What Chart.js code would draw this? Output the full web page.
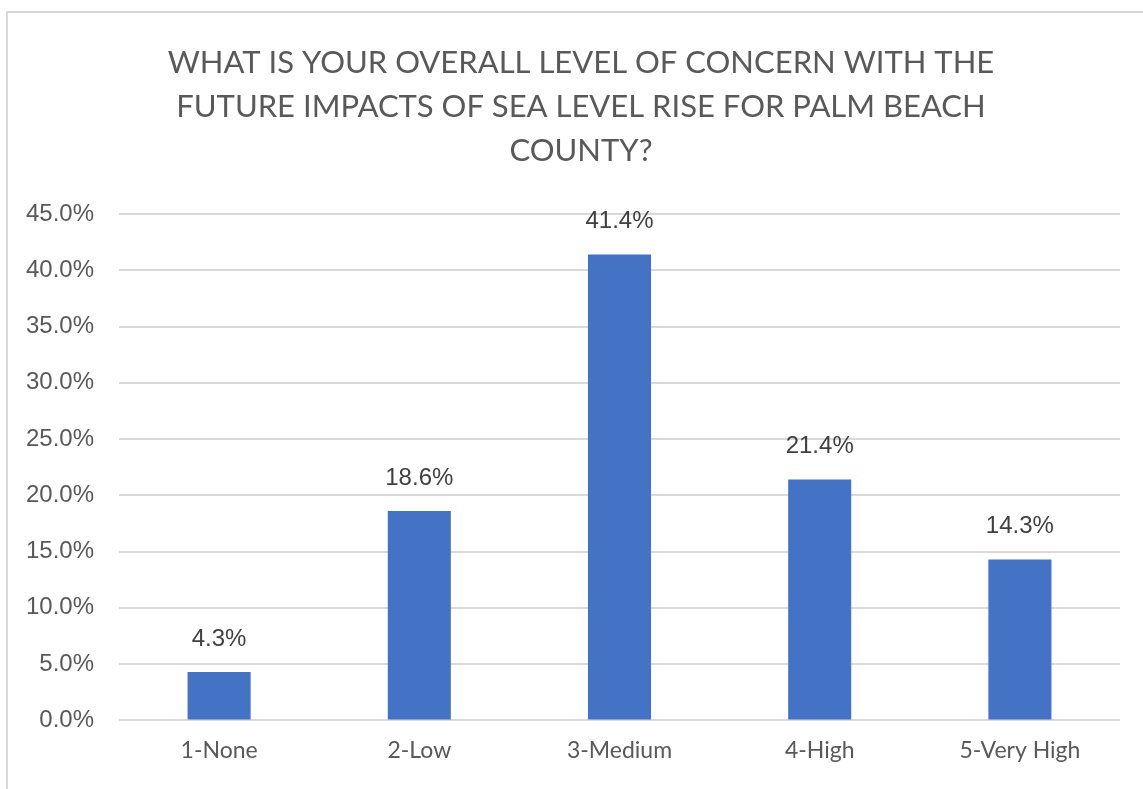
<!DOCTYPE html>
<html>
<head>
<meta charset="utf-8">
<script src="https://cdn.jsdelivr.net/npm/chart.js@4"></script>
<style>
  html, body { margin: 0; padding: 0; background: #fff; overflow: hidden; }
  .frame {
    position: absolute; left: 6px; top: 11px;
    width: 1152px; height: 800px;
    border-left: 2px solid #d9d9d9; border-top: 2px solid #d9d9d9;
  }
</style>
</head>
<body>
<div class="frame"><canvas id="concernChart" width="1152" height="791"></canvas></div>
<script>
const categories = ["1-None", "2-Low", "3-Medium", "4-High", "5-Very High"];
const shares = [4.3, 18.6, 41.4, 21.4, 14.3];
const titleLines = [
  "WHAT IS YOUR OVERALL LEVEL OF CONCERN WITH THE",
  "FUTURE IMPACTS OF SEA LEVEL RISE FOR PALM BEACH",
  "COUNTY?"
];

// title is centred on the whole frame, not on the plot, so it is drawn by hand
const frameTitle = {
  id: "frameTitle",
  afterDraw(chart) {
    const ctx = chart.ctx;
    ctx.save();
    ctx.font = "31px Lato, sans-serif";
    ctx.fillStyle = "#595959";
    ctx.textAlign = "center";
    ctx.textBaseline = "middle";
    titleLines.forEach((line, i) => {
      ctx.fillText(line, chart.width / 2 - 3, 50 + i * 44);
    });
    ctx.restore();
  }
};

// draws the value above each bar
const valueLabels = {
  id: "valueLabels",
  afterDatasetsDraw(chart) {
    const ctx = chart.ctx;
    const meta = chart.getDatasetMeta(0);
    ctx.save();
    ctx.font = "24px 'Liberation Sans', Arial, sans-serif";
    ctx.fillStyle = "#404040";
    ctx.textAlign = "center";
    ctx.textBaseline = "middle";
    meta.data.forEach((bar, i) => {
      ctx.fillText(shares[i].toFixed(1) + "%", bar.x, bar.y - 33);
    });
    ctx.restore();
  }
};

const ctx = document.getElementById("concernChart").getContext("2d");
new Chart(ctx, {
  type: "bar",
  data: {
    labels: categories,
    datasets: [{
      data: shares,
      backgroundColor: "#4472C4",
      barPercentage: 0.315,
      categoryPercentage: 1
    }]
  },
  options: {
    responsive: false,
    animation: false,
    layout: { padding: { left: 18, right: 40, top: 201, bottom: 32 } },
    plugins: {
      legend: { display: false },
      tooltip: { enabled: false },
      title: { display: false }
    },
    scales: {
      x: {
        grid: { display: false },
        border: { display: false },
        ticks: {
          color: "#595959",
          font: { family: "Lato, sans-serif", size: 23 },
          padding: 8,
          maxRotation: 0
        }
      },
      y: {
        min: 0,
        max: 45,
        afterFit(scale) { scale.width = 93; },
        ticks: {
          stepSize: 5,
          color: "#595959",
          font: { family: "'Liberation Sans', Arial, sans-serif", size: 24 },
          padding: 25,
          callback: v => v.toFixed(1) + "%"
        },
        grid: { color: "#d9d9d9", lineWidth: 2, drawTicks: false },
        border: { display: false }
      }
    }
  },
  plugins: [valueLabels, frameTitle]
});
</script>
</body>
</html>
